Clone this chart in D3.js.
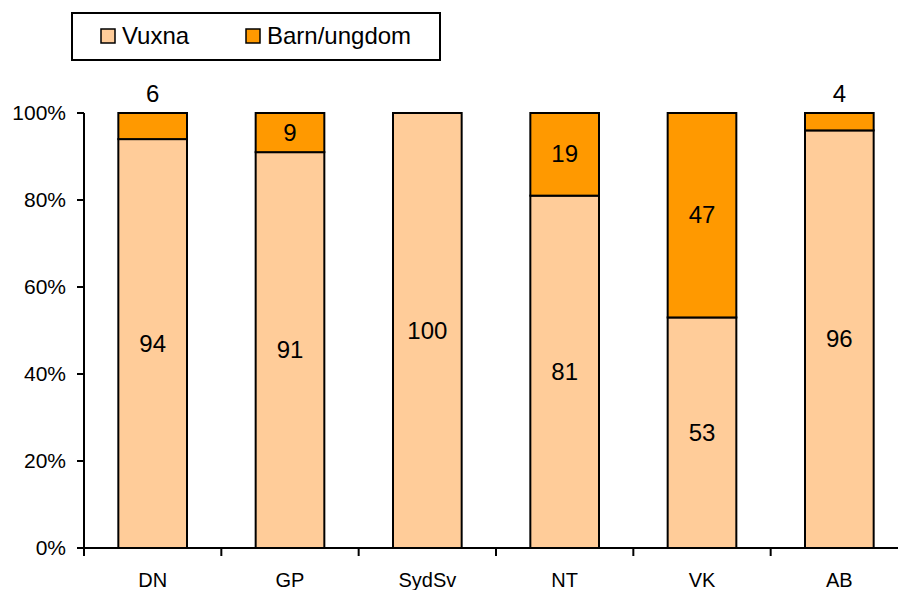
<!DOCTYPE html>
<meta charset="utf-8">
<style>
body { margin: 0; background: #fff; }
text { font-family: "Liberation Sans", Arial, sans-serif; fill: #000; }
</style>
<body>
<div id="chart"></div>
<script src="https://cdn.jsdelivr.net/npm/d3@7/dist/d3.min.js"></script>
<script>
// data
const categories = ["DN", "GP", "SydSv", "NT", "VK", "AB"];
const vuxna = [94, 91, 100, 81, 53, 96];
const barn = [6, 9, 0, 19, 47, 4];
const seriesNames = ["Vuxna", "Barn/ungdom"];
const seriesColors = ["#FFCC99", "#FF9900"];
const yTicks = [0, 20, 40, 60, 80, 100];

const width = 898, height = 590;

const svg = d3.select("#chart").append("svg")
    .attr("width", width)
    .attr("height", height);

const x = d3.scaleBand()
    .domain(categories)
    .range([84, 908])
    .paddingInner(0.5)
    .paddingOuter(0.25);

const y = d3.scaleLinear()
    .domain([0, 100])
    .range([548, 113]);

const rows = categories.map((c, i) => ({ cat: c, Vuxna: vuxna[i], "Barn/ungdom": barn[i] }));
const stacked = d3.stack().keys(seriesNames)(rows);

// bars
const layers = svg.append("g").selectAll("g")
    .data(stacked)
    .enter().append("g")
    .attr("fill", (d, i) => seriesColors[i]);

layers.selectAll("rect")
    .data(d => d.filter(s => s[1] - s[0] > 0))
    .enter().append("rect")
    .attr("x", d => x(d.data.cat))
    .attr("width", x.bandwidth())
    .attr("y", d => y(d[1]))
    .attr("height", d => y(d[0]) - y(d[1]))
    .attr("stroke", "#000")
    .attr("stroke-width", 2);

// value labels (small segments go above the bar)
layers.each(function(layer) {
    d3.select(this).selectAll("text")
        .data(layer.filter(s => s[1] - s[0] > 0))
        .enter().append("text")
        .attr("x", d => x(d.data.cat) + x.bandwidth() / 2)
        .attr("y", d => {
            const v = d[1] - d[0];
            if (v < 8) return y(d[1]) - 11;
            return (y(d[0]) + y(d[1])) / 2 + 8;
        })
        .attr("text-anchor", "middle")
        .style("font-size", "24px")
        .text(d => d[1] - d[0]);
});

// y axis
const yAxis = svg.append("g");
yAxis.append("line")
    .attr("x1", 84).attr("x2", 84)
    .attr("y1", y(100)).attr("y2", y(0))
    .attr("stroke", "#000").attr("stroke-width", 2);
yAxis.selectAll(".tick")
    .data(yTicks)
    .enter().append("line")
    .attr("x1", 77).attr("x2", 84)
    .attr("y1", d => y(d)).attr("y2", d => y(d))
    .attr("stroke", "#000").attr("stroke-width", 2);
yAxis.selectAll("text")
    .data(yTicks)
    .enter().append("text")
    .attr("x", 66)
    .attr("y", d => y(d) + 7)
    .attr("text-anchor", "end")
    .style("font-size", "21px")
    .text(d => d + "%");

// x axis
const step = x.step();
const bounds = d3.range(categories.length + 1).map(i => x.range()[0] + i * step);
const xAxis = svg.append("g");
xAxis.append("line")
    .attr("x1", 84).attr("x2", 908)
    .attr("y1", y(0)).attr("y2", y(0))
    .attr("stroke", "#000").attr("stroke-width", 2);
xAxis.selectAll(".tick")
    .data(bounds)
    .enter().append("line")
    .attr("x1", d => d).attr("x2", d => d)
    .attr("y1", y(0)).attr("y2", y(0) + 8)
    .attr("stroke", "#000").attr("stroke-width", 2);
xAxis.selectAll("text")
    .data(categories)
    .enter().append("text")
    .attr("x", d => x(d) + x.bandwidth() / 2)
    .attr("y", 587)
    .attr("text-anchor", "middle")
    .style("font-size", "20px")
    .text(d => d);

// legend
const legend = svg.append("g");
legend.append("rect")
    .attr("x", 72).attr("y", 13)
    .attr("width", 368).attr("height", 47)
    .attr("fill", "#fff")
    .attr("stroke", "#000").attr("stroke-width", 2);
const legendX = [101, 246];
seriesNames.forEach((name, i) => {
    legend.append("rect")
        .attr("x", legendX[i]).attr("y", 29)
        .attr("width", 14).attr("height", 14)
        .attr("fill", seriesColors[i])
        .attr("stroke", "#000").attr("stroke-width", 1.5);
    legend.append("text")
        .attr("x", legendX[i] + 21).attr("y", 44)
        .style("font-size", "24px")
        .text(name);
});
</script>
</body>
